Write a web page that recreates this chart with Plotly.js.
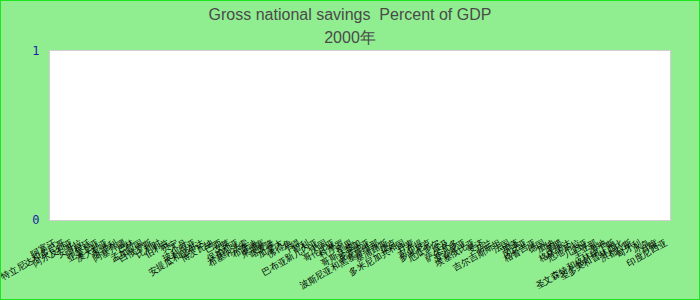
<!DOCTYPE html>
<html>
<head>
<meta charset="utf-8">
<script src="https://cdn.plot.ly/plotly-3.0.1.min.js"></script>
<style>
  html, body { margin: 0; padding: 0; background: #90ee90; }
  #chart { width: 700px; height: 300px; }
  #frame { position: absolute; left: 0; top: 0; width: 700px; height: 300px; box-sizing: border-box; border: 1px solid #1ee61e; pointer-events: none; }
</style>
</head>
<body>
<div id="chart"></div>
<div id="frame"></div>
<script>
// Category labels (countries)
const countries = [
  "阿富汗", "特立尼达和多巴哥", "阿尔及利亚", "安哥拉", "阿根廷", "亚美尼亚", "澳大利亚", "奥地利",
  "阿塞拜疆", "巴林", "孟加拉国", "白俄罗斯", "比利时", "伯利兹", "贝宁", "不丹",
  "玻利维亚", "安提瓜和巴布达", "博茨瓦纳", "巴西", "文莱", "保加利亚", "布基纳法索", "布隆迪",
  "柬埔寨", "喀麦隆", "加拿大", "佛得角", "乍得", "智利", "巴布亚新几内亚", "中国",
  "哥伦比亚", "科摩罗", "刚果", "哥斯达黎加", "克罗地亚", "波斯尼亚和黑塞哥维那", "塞浦路斯", "捷克",
  "多米尼加共和国", "丹麦", "吉布提", "多米尼克", "厄瓜多尔", "埃及", "萨尔瓦多", "爱沙尼亚",
  "埃塞俄比亚", "斐济", "芬兰", "吉尔吉斯斯坦", "法国", "加蓬", "冈比亚", "格鲁吉亚",
  "德国", "加纳", "希腊", "格林纳达", "危地马拉", "几内亚", "圭亚那", "海地",
  "圣文森特和格林纳丁斯", "圣多美和普林西比", "洪都拉斯", "匈牙利", "冰岛", "印度", "印度尼西亚"
];
// Gross national savings, percent of GDP, 2000 — no values shown in the chart
const savings = countries.map(() => null);
const yTickVals = [0, 1];
const yTickText = ["0", "1"];
const titleLines = ["Gross national savings  Percent of GDP", "2000年"];

const trace = {
  type: "bar",
  x: countries,
  y: savings,
  marker: { color: "#4472c4" },
  hoverinfo: "x+y"
};

const layout = {
  width: 700,
  height: 300,
  paper_bgcolor: "#90ee90",
  plot_bgcolor: "#ffffff",
  margin: { l: 50, r: 30, t: 51, b: 80, pad: 0 },
  showlegend: false,
  title: {
    text: titleLines.map(s => '<span style="font-size:16px">' + s + '</span>').join("<br>"),
    font: { family: "Liberation Sans, Arial, sans-serif", size: 18, color: "#4a4a4a" },
    x: 0.5, xanchor: "center",
    y: 0.935, yanchor: "top", yref: "container"
  },
  xaxis: {
    type: "category",
    tickmode: "linear",
    dtick: 1,
    tickangle: -30,
    ticklabelstandoff: 13,
    tickfont: { family: "Liberation Sans, Arial, sans-serif", size: 9, color: "#000000" },
    showline: true, mirror: true, linecolor: "#d0d0d0", linewidth: 1,
    showgrid: false, zeroline: false, ticks: "",
    automargin: false
  },
  yaxis: {
    range: [0, 1],
    tickmode: "array",
    tickvals: yTickVals,
    ticktext: yTickText,
    ticklabelstandoff: 7,
    tickfont: { family: "DejaVu Sans Mono, monospace", size: 12, color: "#1c1ca8" },
    showline: true, mirror: true, linecolor: "#d0d0d0", linewidth: 1,
    showgrid: false, zeroline: false, ticks: "",
    automargin: false
  }
};

Plotly.newPlot("chart", [trace], layout, { displayModeBar: false, staticPlot: true });
</script>
</body>
</html>
